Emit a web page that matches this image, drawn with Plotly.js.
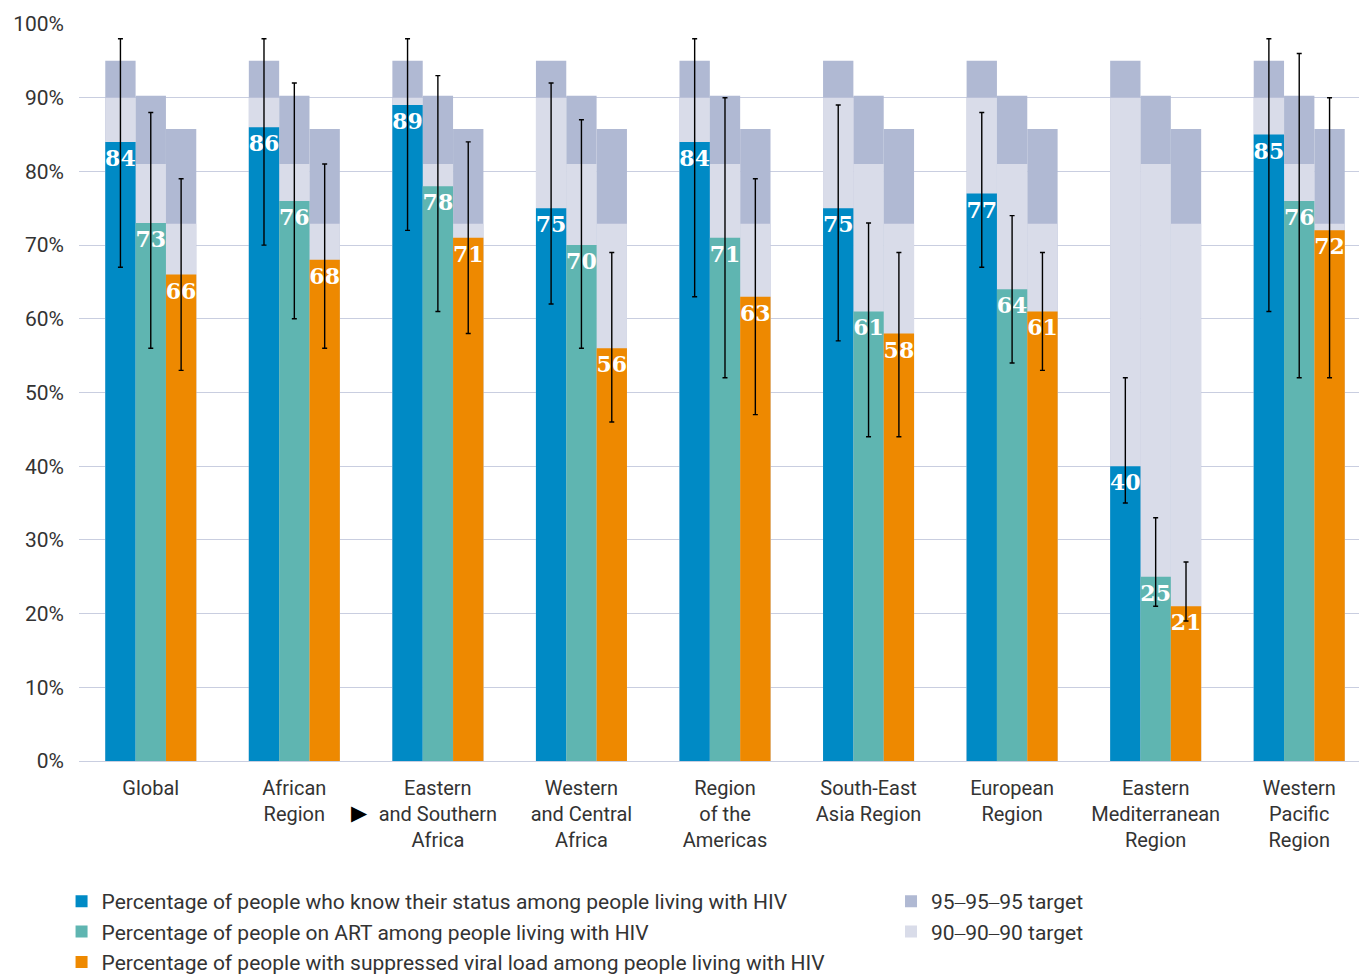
<!DOCTYPE html>
<html>
<head>
<meta charset="utf-8">
<script src="https://cdn.plot.ly/plotly-3.0.1.min.js"></script>
<style>
html, body { margin:0; padding:0; overflow:hidden; background:#fff; }
#chart { width:1371px; height:974px; }
</style>
</head>
<body>
<div id="chart"></div>
<script>
const categories = ["Global", "African<br>Region", "Eastern<br>and Southern<br>Africa", "Western<br>and Central<br>Africa", "Region<br>of the<br>Americas", "South-East<br>Asia Region", "European<br>Region", "Eastern<br>Mediterranean<br>Region", "Western<br>Pacific<br>Region"];

const knowStatus = [84, 86, 89, 75, 84, 75, 77, 40, 85];
const knowLow    = [67, 70, 72, 62, 63, 57, 67, 35, 61];
const knowHigh   = [98, 98, 98, 92, 98, 89, 88, 52, 98];

const onART   = [73, 76, 78, 70, 71, 61, 64, 25, 76];
const artLow  = [56, 60, 61, 56, 52, 44, 54, 21, 52];
const artHigh = [88, 92, 93, 87, 90, 73, 74, 33, 96];

const suppressed = [66, 68, 71, 56, 63, 58, 61, 21, 72];
const vlLow      = [53, 56, 58, 46, 47, 44, 53, 19, 52];
const vlHigh     = [79, 81, 84, 69, 79, 69, 69, 27, 90];

const target95 = [95, 90.25, 85.74];
const target90 = [90, 81, 72.9];

const seriesNames = [
  "Percentage of people who know their status among people living with HIV",
  "Percentage of people on ART among people living with HIV",
  "Percentage of people with suppressed viral load among people living with HIV"
];
const targetNames = ["95\u201295\u201295 target", "90\u201290\u201290 target"];

const colors = ["#008ac5", "#5fb5b1", "#ee8900"];
const col95 = "#b0b9d3";
const col90 = "#d9dce9";

const BW = 0.2113;
const offsets = [-0.317, -0.1057, 0.1057];

const traces = [];
for (let k = 0; k < 3; k++) {
  traces.push({
    type: "bar", x: categories, y: categories.map(() => target95[k]),
    width: BW, offset: offsets[k], marker: {color: col95, line: {width: 0}},
    name: targetNames[0], legend: "legend2", showlegend: k === 0, legendgroup: "t95",
    hoverinfo: "skip"
  });
}
for (let k = 0; k < 3; k++) {
  traces.push({
    type: "bar", x: categories, y: categories.map(() => target90[k]),
    width: BW, offset: offsets[k], marker: {color: col90, line: {width: 0}},
    name: targetNames[1], legend: "legend2", showlegend: k === 0, legendgroup: "t90",
    hoverinfo: "skip"
  });
}
const vals = [knowStatus, onART, suppressed];
const lows = [knowLow, artLow, vlLow];
const highs = [knowHigh, artHigh, vlHigh];
for (let k = 0; k < 3; k++) {
  traces.push({
    type: "bar", x: categories, y: vals[k],
    width: BW, offset: offsets[k], marker: {color: colors[k], line: {width: 0}},
    name: seriesNames[k], legend: "legend",
    text: vals[k].map(String), textposition: "inside", insidetextanchor: "end",
    textangle: 0, constraintext: "none", cliponaxis: false,
    textfont: {family: "DejaVu Serif", size: 22, color: "#ffffff", weight: "bold"},
    error_y: {
      type: "data", symmetric: false,
      array: highs[k].map((h, i) => h - vals[k][i]),
      arrayminus: lows[k].map((l, i) => vals[k][i] - l),
      color: "#000000", thickness: 1.4, width: 2.5
    }
  });
}

const layout = {
  width: 1371, height: 974,
  margin: {l: 79, r: 0, t: 24, b: 213, autoexpand: false},
  paper_bgcolor: "#ffffff", plot_bgcolor: "#ffffff",
  barmode: "overlay",
  font: {family: "Roboto", color: "#333333", size: 20},
  showlegend: true,
  xaxis: {
    type: "category", showgrid: false, ticks: "", showline: false, zeroline: false,
    tickfont: {family: "Roboto", size: 20, color: "#333333"},
    ticklabelstandoff: 13, automargin: false
  },
  yaxis: {
    range: [0, 100], dtick: 10, ticksuffix: "%", showgrid: true,
    gridcolor: "#c9cee0", gridwidth: 1, zeroline: true, zerolinecolor: "#c9cee0", zerolinewidth: 1,
    ticks: "", showline: false, automargin: false,
    tickfont: {family: "Roboto", size: 21, color: "#333333"},
    ticklabelstandoff: 14
  },
  legend: {
    x: -0.0135, y: -0.163, xanchor: "left", yanchor: "top",
    orientation: "v", font: {family: "Roboto", size: 21, color: "#333333"},
    bgcolor: "rgba(0,0,0,0)", itemwidth: 30, traceorder: "normal"
  },
  legend2: {
    x: 0.6285, y: -0.163, xanchor: "left", yanchor: "top",
    orientation: "v", font: {family: "Roboto", size: 21, color: "#333333"},
    bgcolor: "rgba(0,0,0,0)", itemwidth: 30, traceorder: "normal"
  },
  annotations: [{
    x: 2, xref: "x", y: -0.0706, yref: "paper", yanchor: "middle", xanchor: "center",
    text: "\u25B6", showarrow: false,
    xshift: -78, font: {family: "DejaVu Sans", size: 21, color: "#000000"}
  }]
};

Plotly.newPlot("chart", traces, layout, {displayModeBar: false, staticPlot: true});
</script>
</body>
</html>
